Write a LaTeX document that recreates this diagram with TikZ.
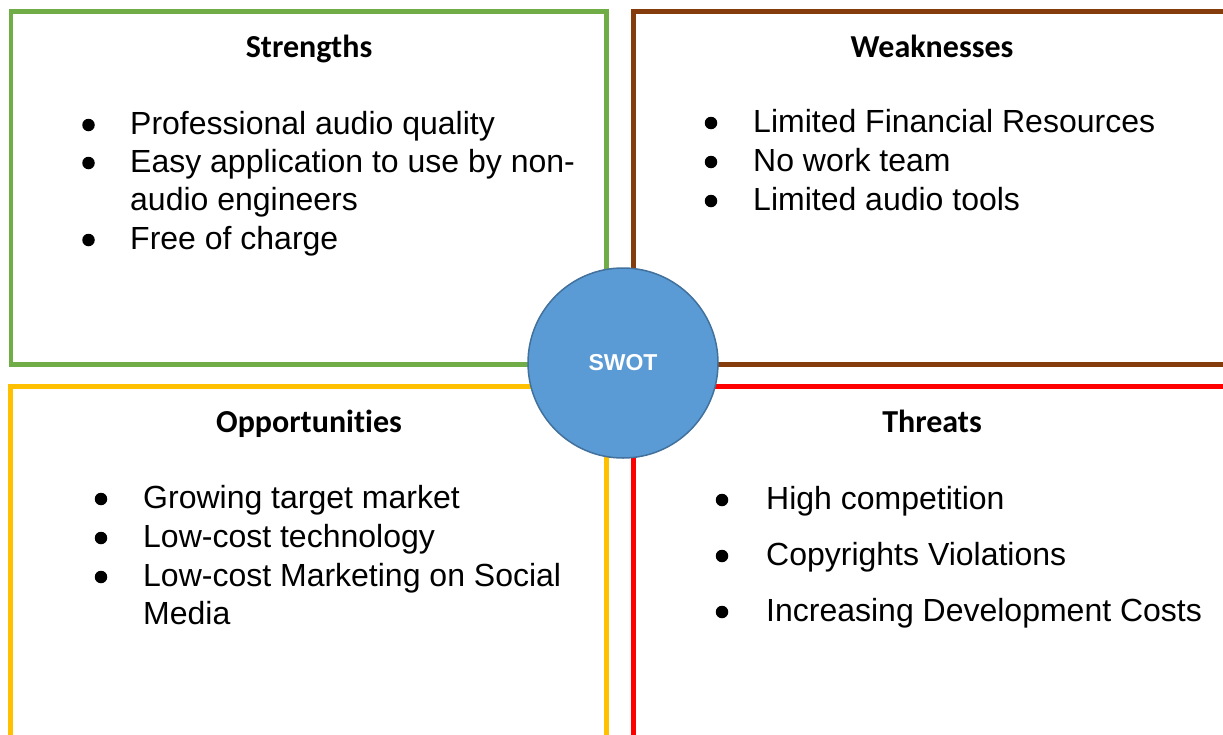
\documentclass[tikz,border=0pt]{standalone}
\usepackage{fontspec}
\setmainfont{Liberation Sans}
\newfontfamily\headfont{Carlito}[Ligatures=NoCommon]
\definecolor{sgreen}{HTML}{70AD47}
\definecolor{wbrown}{HTML}{843C0C}
\definecolor{oyellow}{HTML}{FFC000}
\definecolor{tred}{HTML}{FF0000}
\definecolor{swotfill}{HTML}{5B9BD5}
\definecolor{swotline}{HTML}{41719C}
\begin{document}
\begin{tikzpicture}[x=1pt,y=-1pt,
  box/.style={line width=4.5pt, line join=miter},
  heading/.style={font=\headfont\bfseries\fontsize{32}{38}\selectfont, anchor=base, inner sep=0pt},
  item/.style={font=\fontsize{32}{38}\selectfont, anchor=base west, inner sep=0pt},
  dot/.style={circle, fill=black, minimum size=12.5pt, inner sep=0pt},
]
\useasboundingbox (0,0) rectangle (1223,734);
\clip (0,0) rectangle (1223,734);

% the four quadrant frames
\draw[box, sgreen]  (11,11.5)    rectangle (606.5,364.5);
\draw[box, wbrown]  (633.5,11.5) rectangle (1231,364.5);
\draw[box, oyellow] (10.5,386.5) rectangle (606.5,760);
\draw[box, tred]    (633.5,386.5) rectangle (1231,760);

% Strengths
\node[heading] (s-head) at (309,57) {Strengths};
\node[dot] (s-b1) at (88.5,125) {};
\node[item] (s-i1) at (130,134) {Professional audio quality};
\node[dot] (s-b2) at (88.5,163) {};
\node[item] (s-i2) at (130,172) {Easy application to use by non-};
\node[item] (s-i2b) at (130,210) {audio engineers};
\node[dot] (s-b3) at (88.5,240) {};
\node[item] (s-i3) at (130,249) {Free of charge};

% Weaknesses
\node[heading] (w-head) at (932,57) {Weaknesses};
\node[dot] (w-b1) at (711,123) {};
\node[item] (w-i1) at (753,132) {Limited Financial Resources};
\node[dot] (w-b2) at (711,162) {};
\node[item] (w-i2) at (753,171) {No work team};
\node[dot] (w-b3) at (711,201) {};
\node[item] (w-i3) at (753,210) {Limited audio tools};

% Opportunities
\node[heading] (o-head) at (309,432) {Opportunities};
\node[dot] (o-b1) at (101,499) {};
\node[item] (o-i1) at (143,508) {Growing target market};
\node[dot] (o-b2) at (101,538) {};
\node[item] (o-i2) at (143,547) {Low-cost technology};
\node[dot] (o-b3) at (101,577) {};
\node[item] (o-i3) at (143,586) {Low-cost Marketing on Social};
\node[item] (o-i3b) at (143,624) {Media};

% Threats
\node[heading] (t-head) at (932,432) {Threats};
\node[dot] (t-b1) at (722,500) {};
\node[item] (t-i1) at (766,509) {High competition};
\node[dot] (t-b2) at (722,556) {};
\node[item] (t-i2) at (766,565) {Copyrights Violations};
\node[dot] (t-b3) at (722,612) {};
\node[item] (t-i3) at (766,621) {Increasing Development Costs};

% central badge
\node[circle, fill=swotfill, draw=swotline, line width=1.5pt, minimum size=190pt,
      inner sep=0pt, text=white, font=\bfseries\fontsize{23}{28}\selectfont]
  (swot) at (623,363) {SWOT};
\end{tikzpicture}
\end{document}
